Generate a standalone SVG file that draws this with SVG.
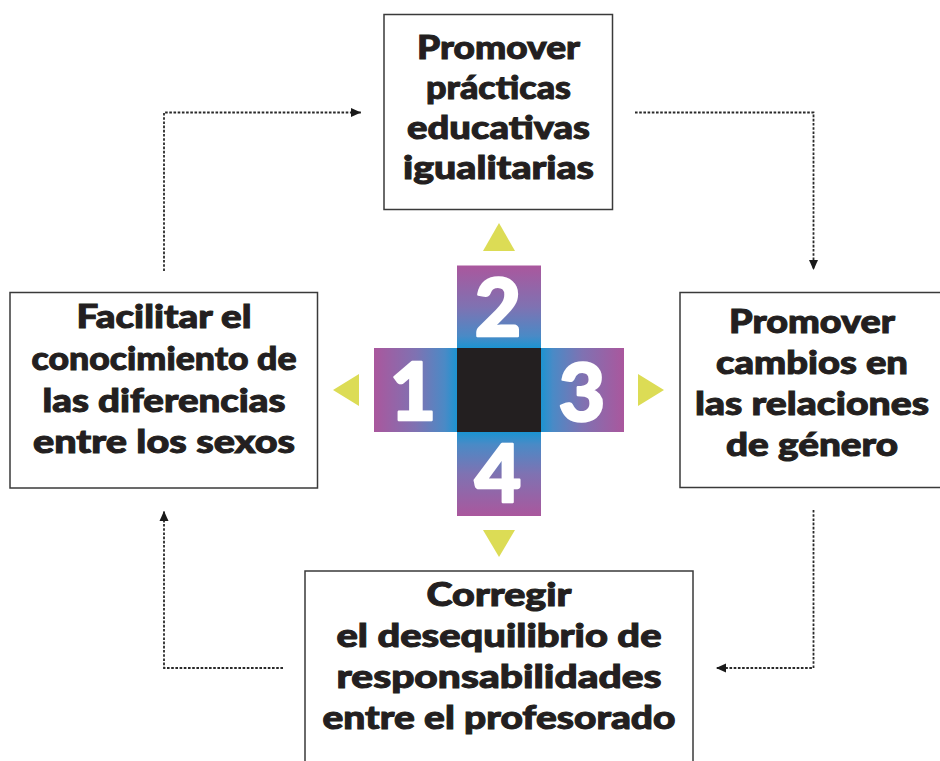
<svg xmlns="http://www.w3.org/2000/svg" width="940" height="761" viewBox="0 0 940 761">
<defs>
<style>
.box{fill:#fff;stroke:#3a3a3a;stroke-width:1.5}
.lbl{font-family:Lato,"Liberation Sans",Arial,sans-serif;font-weight:900;font-size:32px;fill:#231f20;stroke:#231f20;stroke-width:1;text-anchor:middle}
.num{font-family:Lato,"Liberation Sans",Arial,sans-serif;font-weight:900;font-size:80px;fill:#fff;stroke:#fff;stroke-width:2.5;stroke-linejoin:round;text-anchor:middle}
.con{fill:none;stroke:#2a2a2a;stroke-width:1.8;stroke-dasharray:2.6 1.6}
.tri{fill:#dcdc55}
</style>
<linearGradient id="gUp" x1="0" y1="0" x2="0" y2="1">
<stop offset="0" stop-color="#aa579d"/><stop offset="0.5" stop-color="#7f72b2"/><stop offset="0.85" stop-color="#4a8ac6"/><stop offset="1" stop-color="#1a94d2"/>
</linearGradient>
<linearGradient id="gDown" x1="0" y1="1" x2="0" y2="0">
<stop offset="0" stop-color="#aa579d"/><stop offset="0.5" stop-color="#7f72b2"/><stop offset="0.85" stop-color="#4a8ac6"/><stop offset="1" stop-color="#1a94d2"/>
</linearGradient>
<linearGradient id="gLeft" x1="0" y1="0" x2="1" y2="0">
<stop offset="0" stop-color="#aa579d"/><stop offset="0.5" stop-color="#7f72b2"/><stop offset="0.85" stop-color="#4a8ac6"/><stop offset="1" stop-color="#1a94d2"/>
</linearGradient>
<linearGradient id="gRight" x1="1" y1="0" x2="0" y2="0">
<stop offset="0" stop-color="#aa579d"/><stop offset="0.5" stop-color="#7f72b2"/><stop offset="0.85" stop-color="#4a8ac6"/><stop offset="1" stop-color="#1a94d2"/>
</linearGradient>
<marker id="ah" viewBox="0 0 10 10" refX="10" refY="5" markerWidth="10" markerHeight="10" markerUnits="userSpaceOnUse" orient="auto">
<path d="M0,0.5 L10,5 L0,9.5 Z" fill="#1a1a1a"/>
</marker>
</defs>
<rect width="940" height="761" fill="#fff"/>

<g id="connectors">
<path class="con" d="M164,271 V112.5 H361" marker-end="url(#ah)"/>
<path class="con" d="M635,112.5 H813.5 V270" marker-end="url(#ah)"/>
<path class="con" d="M813.5,510 V668 H716" marker-end="url(#ah)"/>
<path class="con" d="M283,668 H164 V511" marker-end="url(#ah)"/>
</g>

<g id="node-top">
<rect class="box" x="384" y="14.5" width="228.5" height="195"/>
<text class="lbl" x="498.5" y="59" textLength="163" lengthAdjust="spacingAndGlyphs">Promover</text>
<text class="lbl" x="498.5" y="99" textLength="145" lengthAdjust="spacingAndGlyphs">prácticas</text>
<text class="lbl" x="498.5" y="139" textLength="183" lengthAdjust="spacingAndGlyphs">educativas</text>
<text class="lbl" x="498.5" y="179" textLength="191" lengthAdjust="spacingAndGlyphs">igualitarias</text>
</g>

<g id="node-left">
<rect class="box" x="10" y="292.5" width="307.5" height="195.5"/>
<text class="lbl" x="164" y="328" textLength="175" lengthAdjust="spacingAndGlyphs">Facilitar el</text>
<text class="lbl" x="164" y="370" textLength="265" lengthAdjust="spacingAndGlyphs">conocimiento de</text>
<text class="lbl" x="164" y="411.5" textLength="243" lengthAdjust="spacingAndGlyphs">las diferencias</text>
<text class="lbl" x="164" y="453" textLength="262" lengthAdjust="spacingAndGlyphs">entre los sexos</text>
</g>

<g id="node-right">
<rect class="box" x="680" y="292.5" width="270" height="195"/>
<text class="lbl" x="812" y="333" textLength="166" lengthAdjust="spacingAndGlyphs">Promover</text>
<text class="lbl" x="812" y="374" textLength="192" lengthAdjust="spacingAndGlyphs">cambios en</text>
<text class="lbl" x="812" y="415" textLength="234" lengthAdjust="spacingAndGlyphs">las relaciones</text>
<text class="lbl" x="812" y="456" textLength="172" lengthAdjust="spacingAndGlyphs">de género</text>
</g>

<g id="node-bottom">
<rect class="box" x="305" y="571" width="388" height="200"/>
<text class="lbl" x="499" y="606" textLength="145" lengthAdjust="spacingAndGlyphs">Corregir</text>
<text class="lbl" x="499" y="647" textLength="325" lengthAdjust="spacingAndGlyphs">el desequilibrio de</text>
<text class="lbl" x="499" y="688" textLength="325" lengthAdjust="spacingAndGlyphs">responsabilidades</text>
<text class="lbl" x="499" y="729" textLength="353" lengthAdjust="spacingAndGlyphs">entre el profesorado</text>
</g>

<g id="center-cross">
<rect x="457" y="265.5" width="84" height="83" fill="url(#gUp)"/>
<rect x="457" y="432" width="84" height="84" fill="url(#gDown)"/>
<rect x="374" y="348" width="83.5" height="84" fill="url(#gLeft)"/>
<rect x="540.5" y="348" width="83.5" height="84" fill="url(#gRight)"/>
<rect x="457" y="348" width="84" height="84" fill="#231f20"/>
<text class="num" x="498" y="336">2</text>
<text class="num" x="413" y="420">1</text>
<text class="num" x="582" y="421">3</text>
<text class="num" x="498" y="502">4</text>
</g>

<g id="triangles">
<polygon class="tri" points="499,223 483,251 515,251"/>
<polygon class="tri" points="483,530 515,530 499,557"/>
<polygon class="tri" points="638,374 664,390 638,406"/>
<polygon class="tri" points="359,374 333,390 359,406"/>
</g>
</svg>
